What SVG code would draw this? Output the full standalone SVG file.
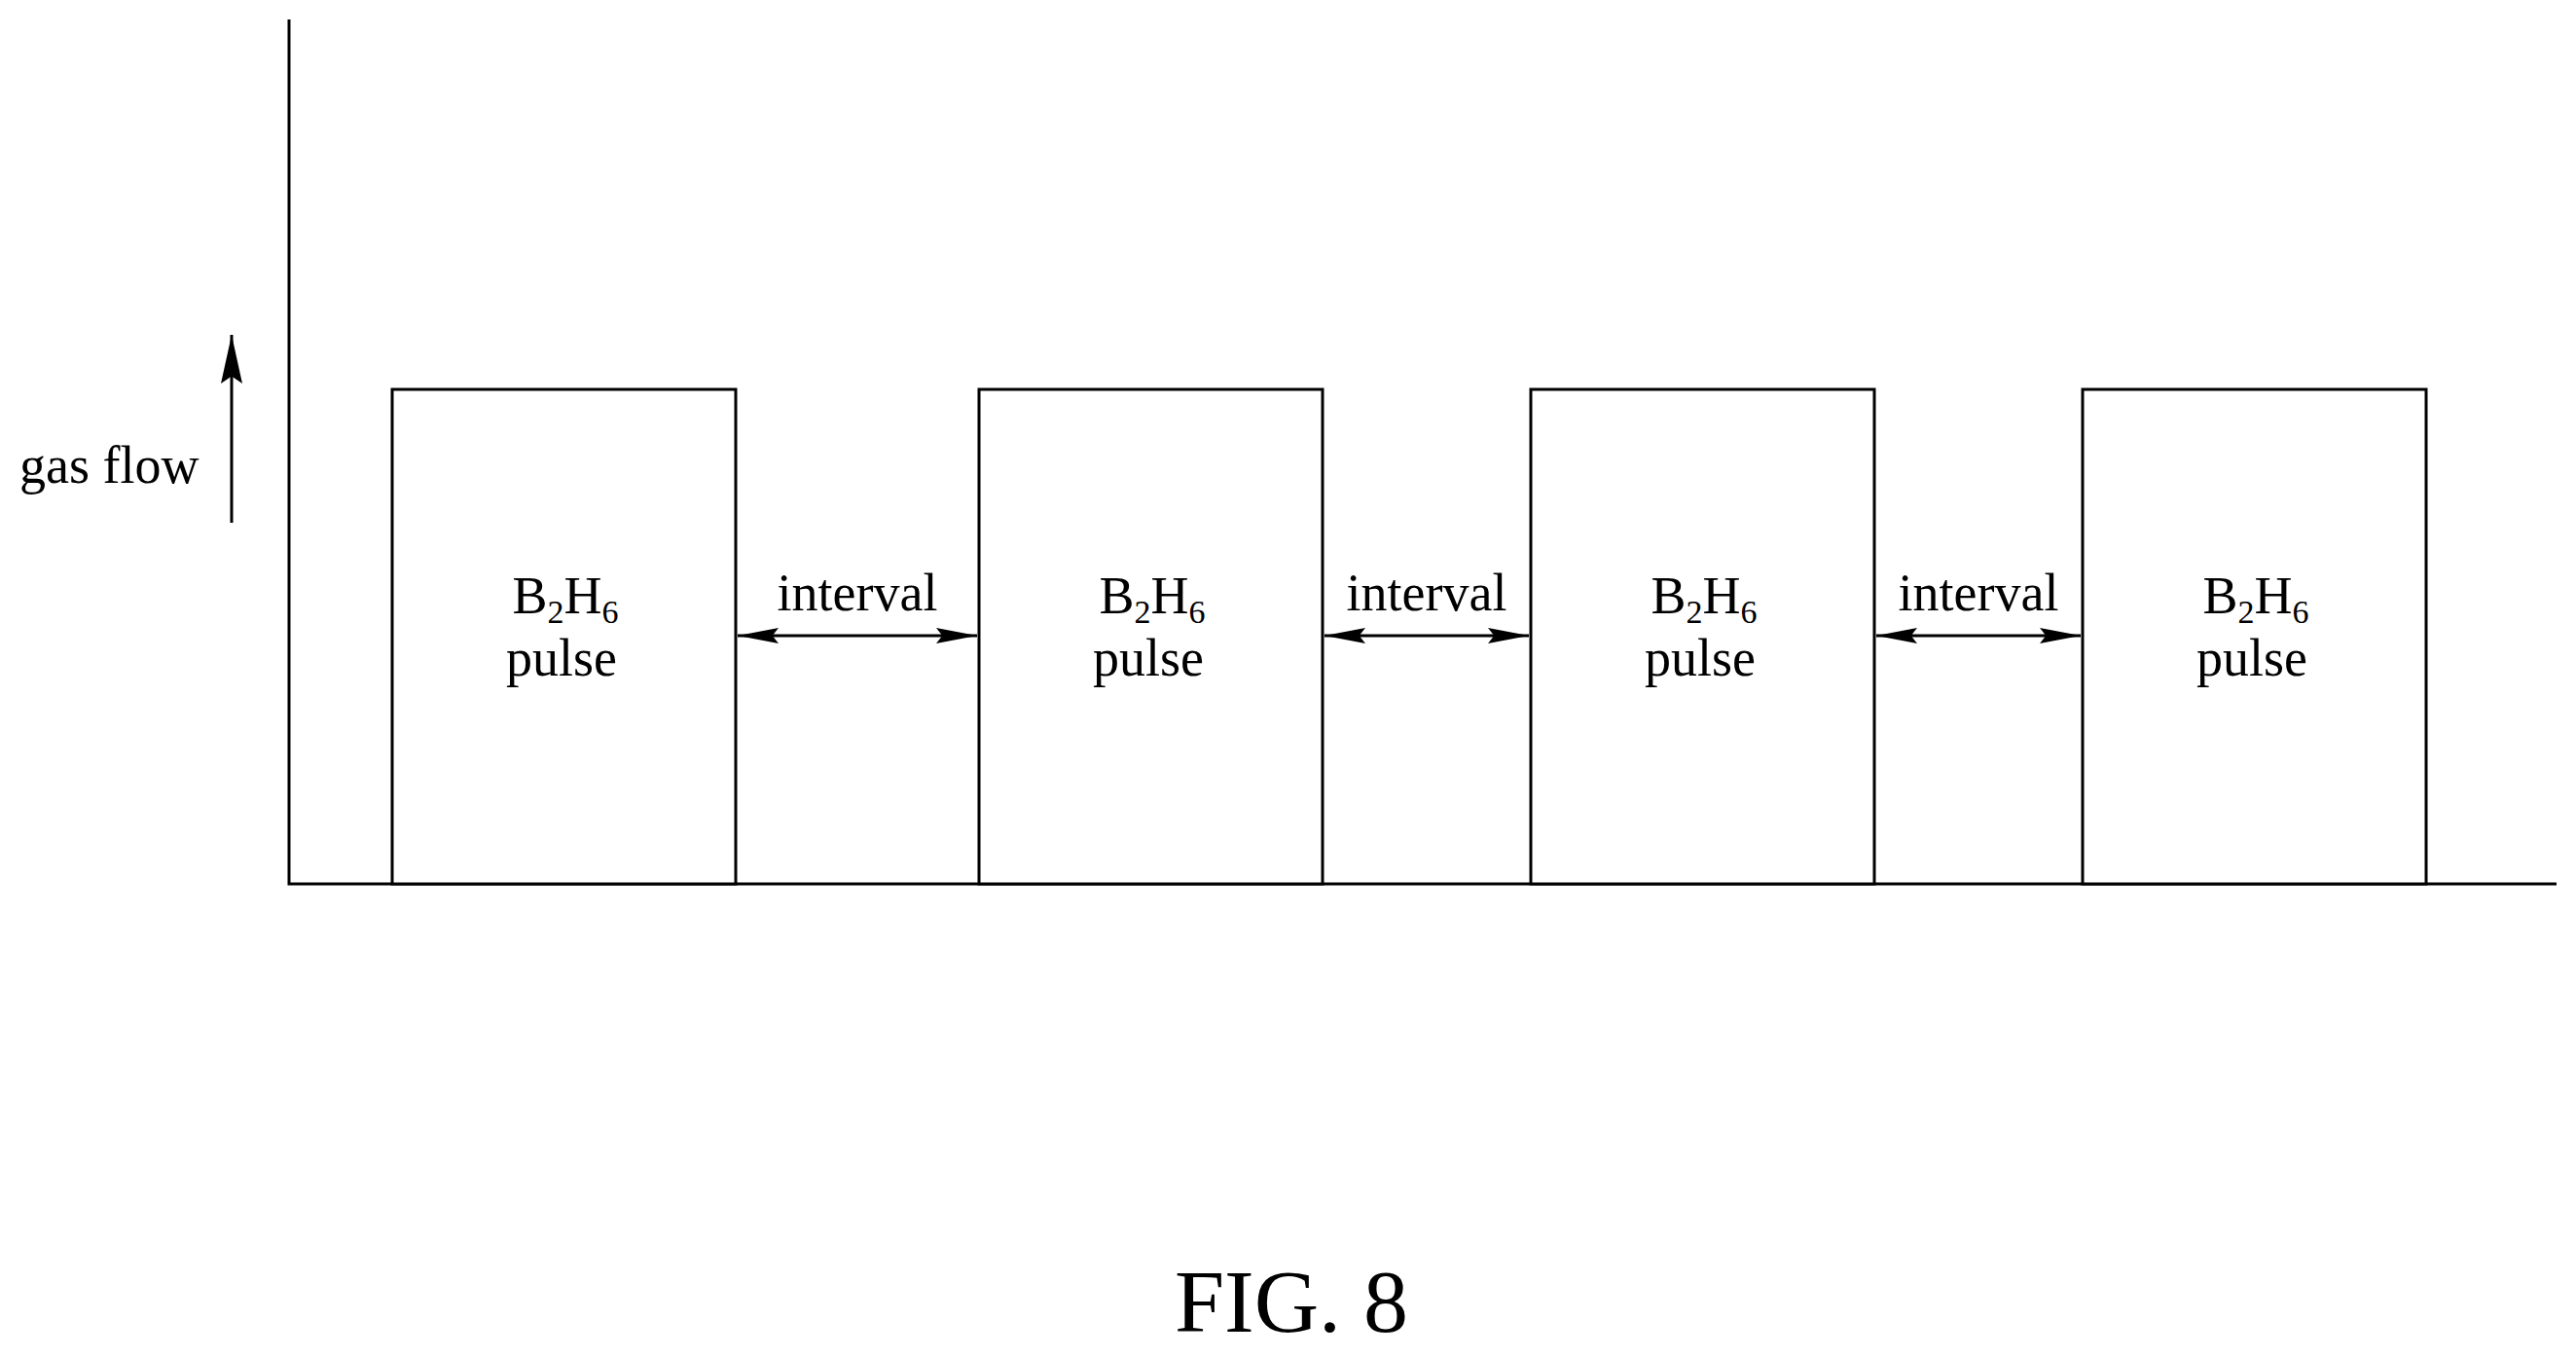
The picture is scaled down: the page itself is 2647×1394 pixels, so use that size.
<svg xmlns="http://www.w3.org/2000/svg" width="2647" height="1394" viewBox="0 0 2647 1394">
<style>
text{font-family:"Liberation Serif",serif;fill:#000}
.l{font-size:54px}
.s{font-size:34px}
.b{fill:#fff;stroke:#000;stroke-width:3}
.c{stroke:#000;stroke-width:3;fill:none}
</style>
<defs>
<marker id="a2" viewBox="0 0 10 10" refX="10" refY="5" markerWidth="42" markerHeight="16" markerUnits="userSpaceOnUse" orient="auto-start-reverse" preserveAspectRatio="none"><path d="M0,0 L10,5 L0,10 L1.5,5 Z" fill="#000"/></marker>
<marker id="a3" viewBox="0 0 10 10" refX="10" refY="5" markerWidth="50" markerHeight="22" markerUnits="userSpaceOnUse" orient="auto" preserveAspectRatio="none"><path d="M0,0 L10,5 L0,10 L1.5,5 Z" fill="#000"/></marker>
</defs>
<g id="axes">
<path class="c" d="M297,20 V908 H2627" stroke-width="5"/>
</g>
<g id="p1"><rect class="b" x="403" y="400" width="353" height="508"/><text class="l" x="581" y="630" text-anchor="middle">B<tspan class="s" dy="10">2</tspan><tspan dy="-10">H</tspan><tspan class="s" dy="10">6</tspan></text><text class="l" x="577" y="694" text-anchor="middle">pulse</text></g>
<g id="p2"><rect class="b" x="1006" y="400" width="353" height="508"/><text class="l" x="1184" y="630" text-anchor="middle">B<tspan class="s" dy="10">2</tspan><tspan dy="-10">H</tspan><tspan class="s" dy="10">6</tspan></text><text class="l" x="1180" y="694" text-anchor="middle">pulse</text></g>
<g id="p3"><rect class="b" x="1573" y="400" width="353" height="508"/><text class="l" x="1751" y="630" text-anchor="middle">B<tspan class="s" dy="10">2</tspan><tspan dy="-10">H</tspan><tspan class="s" dy="10">6</tspan></text><text class="l" x="1747" y="694" text-anchor="middle">pulse</text></g>
<g id="p4"><rect class="b" x="2140" y="400" width="353" height="508"/><text class="l" x="2318" y="630" text-anchor="middle">B<tspan class="s" dy="10">2</tspan><tspan dy="-10">H</tspan><tspan class="s" dy="10">6</tspan></text><text class="l" x="2314" y="694" text-anchor="middle">pulse</text></g>
<g id="gasflow"><text class="l" x="20" y="496">gas flow</text></g>
<g id="connectors">
<line class="c" x1="238" y1="537" x2="238" y2="344" marker-end="url(#a3)"/>
<line class="c" x1="758" y1="653" x2="1004" y2="653" marker-start="url(#a2)" marker-end="url(#a2)"/>
<line class="c" x1="1361" y1="653" x2="1571" y2="653" marker-start="url(#a2)" marker-end="url(#a2)"/>
<line class="c" x1="1928" y1="653" x2="2138" y2="653" marker-start="url(#a2)" marker-end="url(#a2)"/>
<text class="l" x="881" y="627" text-anchor="middle">interval</text>
<text class="l" x="1466" y="627" text-anchor="middle">interval</text>
<text class="l" x="2033" y="627" text-anchor="middle">interval</text>
</g>
<text x="1327" y="1368" font-size="92" text-anchor="middle">FIG. 8</text>
</svg>
